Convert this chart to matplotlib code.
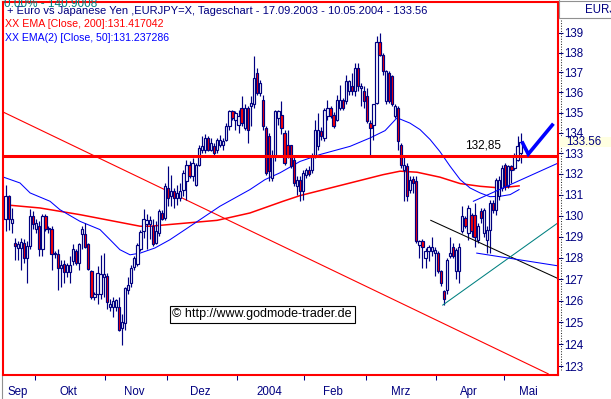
import numpy as np
import matplotlib
matplotlib.use("Agg")
import matplotlib.pyplot as plt
from matplotlib.patches import Rectangle
from matplotlib.lines import Line2D
from matplotlib.ticker import FixedLocator, FixedFormatter, NullLocator

plt.rcParams['font.family'] = ['Liberation Sans', 'DejaVu Sans']

# ---------------- data ----------------
opens = [129.82,130.92,129.66,128.71,128.47,128.47,128.71,128.0,128.55,129.97,
         129.34,129.5,128.39,129.97,129.34,129.38,128.16,128.2,127.52,127.73,
         127.32,127.32,127.84,128.34,127.76,129.1,129.1,128.63,127.4,126.17,
         126.33,126.33,127.12,127.16,125.7,125.7,125.7,125.73,124.75,124.99,
         126.49,126.81,127.57,127.7,128.4,129.26,129.58,129.58,129.5,128.71,
         129.18,130.12,129.88,131.32,130.92,131.16,130.84,130.84,131.24,131.64,
         132.45,131.88,131.48,132.45,133.18,133.18,133.75,133.18,133.34,133.18,
         133.42,133.42,133.67,134.32,135.07,134.65,134.4,135.23,134.24,135.23,
         135.31,135.4,136.97,135.97,135.64,134.24,133.84,131.8,132.85,134.74,
         134.9,134.0,133.42,133.42,132.69,131.4,131.72,131.16,131.96,132.2,
         132.21,132.85,133.34,134.08,133.75,134.82,135.23,134.9,134.65,135.23,
         135.64,135.56,136.06,136.3,136.06,137.22,136.22,136.06,135.81,134.48,
         134.4,135.48,138.56,137.89,135.56,136.97,136.8,134.82,135.23,133.42,
         132.21,132.37,131.24,131.77,131.64,128.61,128.77,128.0,128.3,128.3,
         128.22,128.22,127.37,126.45,126.5,128.07,128.53,127.37,127.37,129.25,
         129.88,129.17,130.04,130.04,128.85,130.2,129.17,128.85,129.33,130.6,
         130.28,130.92,131.32,132.45,131.4,132.37,132.29,132.69,133.02]
highs = [131.48,131.0,130.37,128.95,128.8,128.95,128.87,128.79,130.3,130.2,
         129.82,129.74,130.05,130.05,129.5,129.5,128.3,128.39,127.92,127.92,
         127.76,128.08,128.63,128.39,128.71,129.5,129.66,128.71,127.44,126.4,
         127.6,128.15,128.23,127.28,126.1,126.17,126.1,126.17,125.39,126.65,
         127.12,127.68,128.08,128.7,129.3,130.3,130.05,129.97,129.82,129.74,
         130.3,130.28,131.56,132.37,131.96,131.32,131.48,131.56,132.21,132.69,
         132.61,132.77,132.53,133.42,133.84,133.92,133.84,133.75,133.51,133.75,
         133.87,133.75,134.48,135.15,135.15,135.07,135.15,135.8,135.4,135.31,
         135.8,137.81,137.22,136.64,135.89,134.32,134.0,133.18,135.15,135.15,
         135.56,134.16,134.16,133.42,132.85,131.88,131.88,132.21,132.3,132.4,
         133.02,134.65,134.98,134.3,135.23,135.64,135.31,135.05,135.89,136.39,
         135.74,136.89,136.6,136.97,137.47,137.47,136.47,136.3,136.22,134.65,
         135.4,138.82,139.0,137.97,137.14,137.05,136.89,135.4,135.31,133.51,
         132.85,132.53,131.88,131.9,131.9,128.85,128.9,128.46,128.61,129.0,
         128.53,128.3,127.45,126.52,128.0,129.0,128.7,128.46,128.7,130.44,
         129.96,130.52,130.12,130.6,129.65,130.36,130.36,129.49,130.76,130.76,
         131.8,131.88,132.45,132.53,132.45,132.45,133.02,133.84,134.0]
lows = [129.26,129.3,129.18,127.92,127.92,127.44,127.76,126.81,128.39,129.34,
        129.18,128.08,128.08,129.26,129.18,127.44,128.0,126.49,126.65,126.81,
        127.12,126.81,127.68,127.68,127.44,128.39,128.47,127.44,126.1,126.02,
        125.86,126.1,126.17,125.62,125.54,125.23,125.54,124.59,123.96,124.67,
        126.33,126.65,127.44,127.6,128.3,128.95,128.39,128.87,128.55,128.63,
        129.02,129.8,129.8,130.44,130.44,130.36,130.52,130.68,130.92,130.76,
        131.8,131.64,131.4,132.37,133.02,133.02,133.1,133.1,132.85,133.02,
        133.33,133.18,133.59,134.16,134.65,134.16,134.0,134.32,134.16,133.51,
        134.32,135.23,135.89,135.81,134.16,131.96,131.64,131.64,132.61,134.4,
        133.92,132.45,132.77,132.29,131.4,131.0,130.68,130.76,131.8,131.9,
        132.05,132.77,133.18,133.67,133.59,134.65,134.74,134.26,134.57,135.15,
        135.15,135.4,135.89,135.89,135.81,136.06,135.31,135.23,134.48,132.85,
        133.67,135.4,137.81,136.89,135.4,135.48,135.31,134.74,133.18,132.29,
        130.68,130.68,131.08,131.1,128.7,128.0,127.53,127.53,127.84,128.07,
        127.14,127.3,126.68,125.8,126.3,128.0,128.0,126.99,126.83,129.17,
        129.41,128.85,129.0,128.53,128.7,129.65,129.0,128.22,128.22,130.1,
        130.04,130.76,131.16,131.24,131.32,131.56,132.21,132.61,132.53]
closes = [130.92,129.82,129.82,128.55,128.63,128.75,128.0,128.55,129.97,129.58,
          129.66,128.39,129.97,129.34,129.42,128.16,128.23,127.52,127.68,127.32,
          127.68,127.68,128.39,127.76,128.63,129.34,128.52,127.48,126.17,126.3,
          127.28,127.25,127.25,125.94,125.86,126.0,126.05,124.67,125.03,126.57,
          126.73,127.52,128.0,128.6,129.2,129.82,129.77,129.77,128.63,129.26,
          130.2,129.83,131.4,130.84,131.16,130.84,131.08,131.16,132.05,132.45,
          131.88,132.53,132.45,133.26,133.34,133.75,133.18,133.51,133.02,133.67,
          133.67,133.59,134.32,135.07,134.74,134.98,134.82,134.48,135.23,134.16,
          135.48,136.72,135.97,136.47,134.32,132.05,132.13,132.85,135.07,135.07,
          134.24,132.53,132.85,132.37,131.56,131.72,131.16,132.05,132.21,132.0,
          132.85,134.16,134.16,133.84,135.15,135.23,134.82,134.36,135.64,135.64,
          135.23,136.55,136.55,136.06,137.22,136.3,136.3,135.56,134.57,134.24,
          135.4,138.56,137.89,137.05,137.05,135.56,135.4,135.31,133.59,132.45,
          132.45,130.92,131.72,131.56,128.77,128.77,128.53,128.3,128.53,128.53,
          128.38,127.37,126.83,126.06,127.9,128.22,128.07,128.38,128.53,129.96,
          129.49,130.36,129.25,129.0,129.49,129.88,130.28,129.33,130.6,130.28,
          131.72,131.72,132.29,131.4,132.37,132.21,132.85,133.34,133.56]

ema200_idx = [-0.85, 11.2, 24.3, 43.9, 47.1, 69.0, 79.7, 90.5, 96.0, 112.4, 123.1,
              128.7, 134.2, 141.7, 148.3, 154.8, 161.3, 167.5]
ema200_val = [130.52, 130.36, 130.04, 129.49, 129.49, 129.77, 130.12, 130.68, 130.95,
              131.56, 131.96, 132.13, 132.08, 131.84, 131.53, 131.40, 131.32, 131.42]
ema50_idx = [-0.85, 4.7, 8.0, 14.5, 17.7, 24.3, 30.8, 34.1, 37.3, 40.6, 43.9, 48.7,
             53.6, 63.4, 69.9, 79.7, 84.6, 89.5, 96.0, 102.6, 112.4, 118.9, 123.8,
             127.7, 131.9, 135.2, 138.5, 141.7, 145.0, 148.3, 151.5, 154.8, 158.0,
             161.3, 164.6, 167.5]
ema50_val = [131.85, 131.56, 131.08, 130.68, 130.28, 129.72, 129.33, 128.85, 128.38,
             128.14, 128.22, 128.46, 128.85, 129.80, 130.44, 131.24, 131.72, 132.05,
             132.60, 132.94, 133.34, 133.75, 134.11, 134.74, 134.48, 134.16, 133.67,
             133.08, 132.37, 131.72, 131.32, 131.08, 130.90, 130.92, 131.00, 131.24]

resistance = 132.85
diag_idx = [-0.85, 177.0];   diag_val = [135.03, 122.67]
black_idx = [138.7, 179.9];  black_val = [129.77, 127.05]
teal_idx = [142.6, 179.9];   teal_val = [125.80, 129.62]
chup_idx = [152.6, 179.9];   chup_val = [130.68, 132.50]
chlo_idx = [153.7, 179.9];   chlo_val = [128.22, 127.63]
check_idx = [168.4, 170.5, 178.7]; check_val = [133.58, 132.96, 134.45]

month_tick_pos = [9.5, 32.5, 52.5, 75.5, 97.5, 117.5, 140.5, 162.5]
month_label_pos = [3.9, 20.5, 41.9, 63.4, 86.0, 106.9, 128.8, 151.0, 170.4]
month_labels = ['Sep', 'Okt', 'Nov', 'Dez', '2004', 'Feb', 'Mrz', 'Apr', 'Mai']
y_ticks = list(range(123, 140))

# ---------------- figure ----------------
W, H = 611, 399
NAVY = '#000080'
fig = plt.figure(figsize=(W / 100, H / 100), dpi=100)
fig.patch.set_facecolor('white')
L, R, T, B = 2.7, 558.3, 1.7, 374.7
ax = fig.add_axes([L / W, 1 - B / H, (R - L) / W, (B - T) / H])
ax.set_yscale('log')
ax.set_xlim(-0.94, 180.3)
ax.set_ylim(122.63, 140.6)
for s in ax.spines.values():
    s.set_color('red')
    s.set_linewidth(1.5)
    s.set_zorder(10)

o = np.array(opens); h = np.array(highs); l = np.array(lows); c = np.array(closes)
x = np.arange(len(c))
up = c >= o
ax.vlines(x, l, h, color=NAVY, lw=0.85, zorder=4)
bot = np.minimum(o, c)
ht = np.maximum(np.abs(c - o), 0.04)
ax.bar(x, ht, bottom=bot, width=0.74, color=np.where(up, 'white', 'red'),
       edgecolor=NAVY, linewidth=0.85, zorder=5)

ax.plot(ema200_idx, ema200_val, color='red', lw=1.1, zorder=3)
ax.plot(ema50_idx, ema50_val, color='blue', lw=0.75, zorder=3)
ax.axhline(resistance, color='red', lw=2.2, zorder=6)
ax.plot(diag_idx, diag_val, color='red', lw=0.8, zorder=2)
ax.plot(black_idx, black_val, color='black', lw=0.75, zorder=6)
ax.plot(teal_idx, teal_val, color='#008080', lw=0.75, zorder=6)
ax.plot(chup_idx, chup_val, color='blue', lw=0.75, zorder=6)
ax.plot(chlo_idx, chlo_val, color='blue', lw=0.75, zorder=6)
ax.plot(check_idx, check_val, color='blue', lw=2.6, zorder=7,
        solid_capstyle='butt', solid_joinstyle='miter')
ax.text(155.7, 133.4, '132,85', fontsize=8.5, color='black', ha='center', va='center', zorder=8)

# axes ticks
ax.yaxis.tick_right()
ax.yaxis.set_major_locator(FixedLocator(y_ticks))
ax.yaxis.set_major_formatter(FixedFormatter([str(v) for v in y_ticks]))
ax.yaxis.set_minor_locator(NullLocator())
ax.tick_params(axis='y', which='major', direction='out', length=3.3, width=0.75,
               color=NAVY, labelcolor=NAVY, labelsize=8.3, pad=0.6)
ax.xaxis.set_major_locator(FixedLocator(month_tick_pos))
ax.xaxis.set_major_formatter(FixedFormatter([''] * len(month_tick_pos)))
ax.xaxis.set_minor_locator(FixedLocator(month_label_pos))
ax.xaxis.set_minor_formatter(FixedFormatter(month_labels))
ax.tick_params(axis='x', which='major', direction='out', length=3.5, width=0.75, color=NAVY)
ax.tick_params(axis='x', which='minor', length=0, labelcolor=NAVY, labelsize=8.3, pad=8)

# ---------------- header / decorations ----------------
def fx(px): return px / W
def fy(py): return 1 - py / H

fig.text(fx(7), fy(10.5), '+ Euro vs Japanese Yen ,EURJPY=X, Tageschart - 17.09.2003 - 10.05.2004 - 133.56',
         color=NAVY, fontsize=8.0, va='center', zorder=9)
fig.text(fx(4), fy(4.2), '0.00% - 140.9008', color='#008080', fontsize=8.5, va='center', zorder=10)
fig.text(fx(5), fy(24), 'XX EMA [Close, 200]:131.417042', color='red', fontsize=7.7, va='center', zorder=9)
fig.text(fx(5), fy(38), 'XX EMA(2) [Close, 50]:131.237286', color='blue', fontsize=7.6, va='center', zorder=9)

fig.text(fx(262), fy(314.5), '\u00a9 http://www.godmode-trader.de', color='black', fontsize=9.0,
         ha='center', va='center', zorder=9,
         bbox=dict(boxstyle='square,pad=0.22', fc='white', ec='black', lw=0.8))

# right header box
fig.add_artist(Line2D([fx(559), fx(559)], [fy(0), fy(18)], color='#909090', lw=0.8))
fig.add_artist(Line2D([fx(559), fx(611)], [fy(18), fy(18)], color='#909090', lw=0.8))
fig.add_artist(Line2D([fx(559), fx(611)], [fy(1), fy(1)], color='#909090', lw=0.8))
fig.text(fx(585), fy(10), 'EURJPY=X', color=NAVY, fontsize=8.3, va='center')
# dotted axis line
fig.add_artist(Line2D([fx(561), fx(561)], [fy(20), fy(371)], color='#303030', lw=0.75,
                      linestyle=(0, (1, 1.5))))
# bottom-left gray line
fig.add_artist(Line2D([fx(2), fx(2)], [fy(376), fy(399)], color='#909090', lw=0.8))
# last price box
fig.add_artist(Rectangle((fx(560), fy(146.7)), (611 - 560) / W, 10 / H, transform=fig.transFigure,
                         fc='#ffffe1', ec='none', zorder=8))
fig.text(fx(566), fy(142), '133.56', color=NAVY, fontsize=8.3, va='center', zorder=9)

fig.savefig('out.png', dpi=100)
